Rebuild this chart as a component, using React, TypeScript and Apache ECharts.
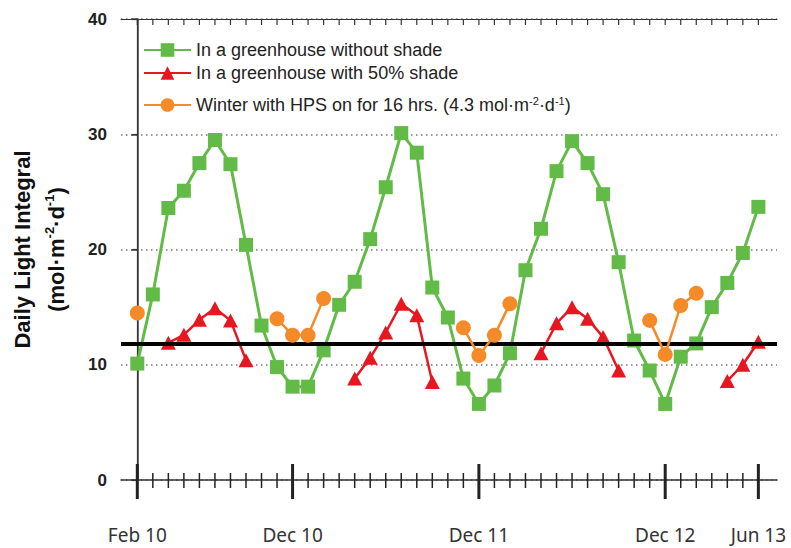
import React, { useEffect, useRef } from 'react';
import * as echarts from 'echarts';

// Month categories (x positions are the index in this list)
const months = [
  'Feb 10', 'Mar 10', 'Apr 10', 'May 10', 'Jun 10', 'Jul 10', 'Aug 10', 'Sep 10', 'Oct 10', 'Nov 10', 'Dec 10',
  'Jan 11', 'Feb 11', 'Mar 11', 'Apr 11', 'May 11', 'Jun 11', 'Jul 11', 'Aug 11', 'Sep 11', 'Oct 11', 'Nov 11', 'Dec 11',
  'Jan 12', 'Feb 12', 'Mar 12', 'Apr 12', 'May 12', 'Jun 12', 'Jul 12', 'Aug 12', 'Sep 12', 'Oct 12', 'Nov 12', 'Dec 12',
  'Jan 13', 'Feb 13', 'Mar 13', 'Apr 13', 'May 13', 'Jun 13',
];

// Labelled (major) ticks
const majorLabels = ['Feb 10', 'Dec 10', 'Dec 11', 'Dec 12', 'Jun 13'];

// Y axis ticks
const yTicks = [0, 10, 20, 30, 40];

// Series names
const nameNoShade = 'In a greenhouse without shade';
const nameShade = 'In a greenhouse with 50% shade';
const nameHps = 'Winter with HPS on for 16 hrs. (4.3 mol·m-2·d-1)';

// Series values (one per month, null = no data)
const noShade = [
  10.1, 16.1, 23.6, 25.1, 27.5, 29.5, 27.4, 20.4, 13.4, 9.8, 8.1,
  8.1, 11.25, 15.2, 17.2, 20.9, 25.4, 30.1, 28.4, 16.7, 14.1, 8.8, 6.6,
  8.2, 11.0, 18.2, 21.8, 26.8, 29.4, 27.5, 24.8, 18.9, 12.1, 9.5, 6.6,
  10.7, 11.85, 15.0, 17.1, 19.7, 23.7,
];

const shade50 = [
  null, null, 11.9, 12.6, 13.9, 14.9, 13.85, 10.4, null, null, null,
  null, null, null, 8.8, 10.6, 12.8, 15.3, 14.3, 8.5, null, null, null,
  null, null, null, 11.0, 13.6, 15.0, 14.0, 12.4, 9.5, null, null, null,
  null, null, null, 8.6, 10.0, 12.0,
];

const hps = [
  14.5, null, null, null, null, null, null, null, null, 14.0, 12.55,
  12.55, 15.75, null, null, null, null, null, null, null, null, 13.2, 10.8,
  12.55, 15.3, null, null, null, null, null, null, null, null, 13.85, 10.9,
  15.15, 16.2, null, null, null, null,
];

const threshold = 11.85;

const toPairs = (vals: (number | null)[]) => vals.map((v, i) => [i, v == null ? '-' : v]);

export default function App() {
  const ref = useRef<HTMLDivElement>(null);

  useEffect(() => {
    if (!ref.current) return;
    const chart = echarts.init(ref.current, undefined, { renderer: 'svg' });
    const yMin = yTicks[0];
    const yMax = yTicks[yTicks.length - 1];
    const font = 'Liberation Sans, Arial, sans-serif';

    const legendCommon = {
      orient: 'vertical',
      left: 143,
      itemWidth: 47,
      itemHeight: 17,
      padding: 0,
      selectedMode: false,
      textStyle: {
        fontSize: 18,
        fontFamily: font,
        color: '#222',
        lineHeight: 20,
        rich: {
          s: { fontSize: 11, fontFamily: font, color: '#222', verticalAlign: 'top', lineHeight: 20 },
        },
      },
      formatter: (n: string) =>
        n === nameHps ? 'Winter with HPS on for 16 hrs. (4.3 mol·m{s|-2}·d{s|-1})' : n,
    };

    const option: any = {
      animation: false,
      backgroundColor: '#fff',
      grid: { left: 121, right: 14, top: 19, bottom: 68, containLabel: false, outerBoundsMode: 'none' },
      legend: [
        { ...legendCommon, top: 40, data: [nameNoShade] },
        { ...legendCommon, top: 63, data: [nameShade] },
        { ...legendCommon, top: 95, data: [nameHps] },
      ],
      xAxis: [
        {
          type: 'value',
          min: -1.05,
          max: 41.2,
          position: 'bottom',
          axisLine: { show: true, onZero: false, lineStyle: { color: '#333', width: 1.5 } },
          axisTick: { show: false },
          axisLabel: { show: false },
          splitLine: { show: false },
        },
        {
          type: 'value',
          min: -1.05,
          max: 41.2,
          position: 'top',
          axisLine: { show: true, onZero: false, lineStyle: { color: '#333', width: 1.2 } },
          axisTick: { show: false },
          axisLabel: { show: false },
          splitLine: { show: false },
        },
      ],
      yAxis: [
        {
          type: 'value',
          min: yMin,
          max: yMax,
          interval: 10,
          position: 'left',
          name: 'Daily Light Integral\n(mol·m{s|-2}·d{s|-1})',
          nameLocation: 'middle',
          nameRotate: 90,
          nameGap: 48,
          nameTextStyle: {
            fontSize: 22,
            fontWeight: 'bold',
            fontFamily: font,
            color: '#111',
            lineHeight: 34,
            align: 'center',
            rich: {
              s: { fontSize: 13, fontWeight: 'bold', fontFamily: font, color: '#111', verticalAlign: 'top', lineHeight: 34, padding: [4, 0, 0, 0] },
            },
          },
          axisLine: { show: true, lineStyle: { color: '#444', width: 1.5 } },
          axisTick: { show: true, length: 6, lineStyle: { color: '#444', width: 1.5 } },
          axisLabel: { fontSize: 17, fontWeight: 'bold', fontFamily: font, color: '#222', margin: 14 },
          splitLine: { show: true, lineStyle: { color: '#777', width: 1.5, type: [1.5, 3.5] } },
        },
        {
          type: 'value',
          min: yMin,
          max: yMax,
          interval: 10,
          position: 'right',
          axisLine: { show: true, lineStyle: { color: '#333', width: 1.2 } },
          axisTick: { show: true, inside: true, length: 5, lineStyle: { color: '#333', width: 1.2 } },
          axisLabel: { show: false },
          splitLine: { show: false },
        },
      ],
      series: [
        {
          type: 'custom',
          silent: true,
          clip: false,
          z: 1,
          xAxisIndex: 0,
          yAxisIndex: 0,
          data: months.map((m, i) => [i, majorLabels.indexOf(m) >= 0 ? 1 : 0]),
          encode: { x: 0, y: 1 },
          renderItem: (params: any, api: any) => {
            const x = api.value(0);
            const major = api.value(1) === 1;
            const b = api.coord([x, yMin]);
            const t = api.coord([x, yMax]);
            const children: any[] = [
              {
                type: 'line',
                shape: { x1: b[0], y1: b[1] - (major ? 16 : 7), x2: b[0], y2: b[1] + (major ? 19 : 8) },
                style: { stroke: '#222', lineWidth: major ? 3 : 1.5 },
              },
              {
                type: 'line',
                shape: { x1: t[0], y1: t[1], x2: t[0], y2: t[1] + 6 },
                style: { stroke: '#333', lineWidth: 1.2 },
              },
            ];
            if (major) {
              children.push({
                type: 'text',
                x: b[0],
                y: b[1] + 55,
                style: {
                  text: months[x],
                  fill: '#333',
                  fontSize: 19,
                  fontFamily: 'Noto Sans, sans-serif',
                  align: 'center',
                  verticalAlign: 'middle',
                },
              });
            }
            return { type: 'group', children };
          },
        },
        {
          name: nameNoShade,
          type: 'line',
          data: toPairs(noShade),
          symbol: 'rect',
          symbolSize: 14,
          connectNulls: false,
          itemStyle: { color: '#62bb46' },
          lineStyle: { color: '#62bb46', width: 3 },
          z: 3,
          markLine: {
            silent: true,
            symbol: ['none', 'none'],
            label: { show: false },
            lineStyle: { color: '#000', width: 4, type: 'solid' },
            data: [{ yAxis: threshold }],
          },
        },
        {
          name: nameShade,
          type: 'line',
          data: toPairs(shade50),
          symbol: 'triangle',
          symbolSize: [15, 14],
          connectNulls: false,
          itemStyle: { color: '#e8161e' },
          lineStyle: { color: '#e8161e', width: 2.5 },
          z: 4,
        },
        {
          name: nameHps,
          type: 'line',
          data: toPairs(hps),
          symbol: 'circle',
          symbolSize: 15,
          connectNulls: false,
          itemStyle: { color: '#f58a28' },
          lineStyle: { color: '#f58a28', width: 2.5 },
          z: 5,
        },
      ],
    };

    chart.setOption(option);
    return () => chart.dispose();
  }, []);

  return (
    <div
      ref={ref}
      style={{ position: 'fixed', left: 0, top: 0, width: 791, height: 548, background: '#fff' }}
    />
  );
}
